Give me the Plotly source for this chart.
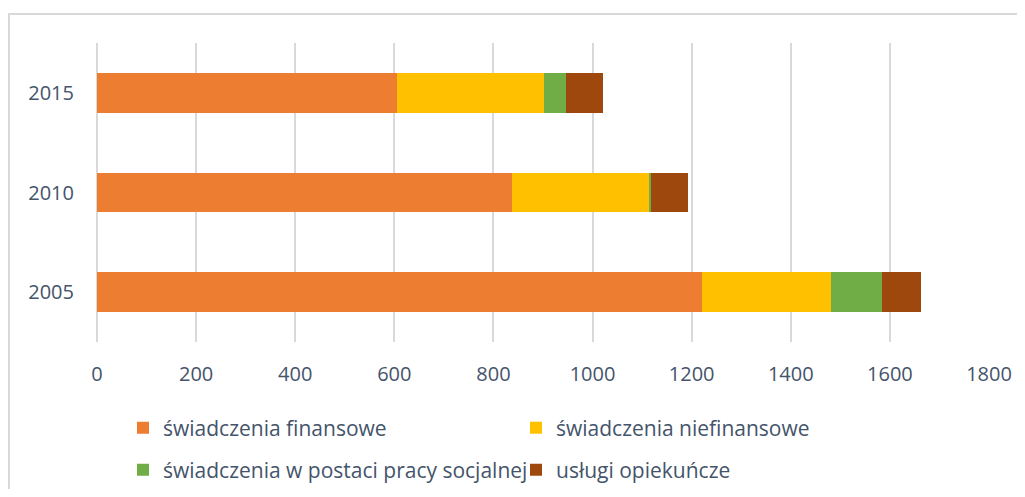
import plotly.graph_objects as go

years = ["2005", "2010", "2015"]
series_names = [
    "świadczenia finansowe",
    "świadczenia niefinansowe",
    "świadczenia w postaci pracy socjalnej",
    "usługi opiekuńcze",
]
fin = [1221, 837, 605]
niefin = [260, 277, 297]
social = [103, 4, 44]
care = [79, 74, 75]
x_ticks = [0, 200, 400, 600, 800, 1000, 1200, 1400, 1600, 1800]

colors = ["#ED7D31", "#FFC000", "#70AD47", "#9E480E"]
values = [fin, niefin, social, care]
legends = ["legend", "legend", "legend2", "legend2"]

# page body has an 8px margin; figure is sized to fit the viewport
W, H = 1009, 481
ml, mr, mt, mb = 89, 28, 35, 147
pw, ph = W - ml - mr, H - mt - mb

def px_x(px):
    return (px - ml) / pw

def px_y(py):
    return (H - mb - py) / ph

def cx(px):
    return px / W

def cy(py):
    return (H - py) / H

TXT = "#44546A"
FONT = "Open Sans"

fig = go.Figure()
for name, vals, col, lg in zip(series_names, values, colors, legends):
    fig.add_trace(go.Bar(
        y=years, x=vals, name=name, orientation="h",
        marker=dict(color=col, line=dict(width=0)),
        legend=lg,
    ))

leg_common = dict(
    orientation="h", xanchor="left", yanchor="middle",
    xref="container", yref="container",
    entrywidth=348, entrywidthmode="pixels",
    font=dict(family=FONT, size=21, color=TXT),
    bgcolor="rgba(0,0,0,0)", traceorder="normal",
)

fig.update_layout(
    width=W, height=H,
    margin=dict(l=ml, r=mr, t=mt, b=mb, autoexpand=False),
    barmode="stack",
    bargap=0.6,
    plot_bgcolor="white",
    paper_bgcolor="white",
    font=dict(family=FONT, size=20, color=TXT),
    xaxis=dict(
        range=[0, 1800], tickvals=x_ticks, ticktext=[str(v) for v in x_ticks],
        showgrid=True, gridcolor="#D9D9D9", gridwidth=2,
        zeroline=True, zerolinecolor="#D9D9D9", zerolinewidth=2,
        showline=False, ticks="", ticklabelstandoff=18,
        tickfont=dict(family=FONT, size=20, color=TXT),
    ),
    yaxis=dict(
        type="category", categoryorder="array", categoryarray=years,
        showgrid=False, zeroline=False, showline=False, ticks="",
        ticklabelstandoff=22,
        tickfont=dict(family=FONT, size=20, color=TXT),
    ),
    legend=dict(x=cx(115), y=cy(420), **leg_common),
    legend2=dict(x=cx(115), y=cy(462), **leg_common),
    shapes=[dict(
        type="rect", xref="paper", yref="paper",
        x0=px_x(1), x1=px_x(1040), y0=px_y(6), y1=px_y(520),
        line=dict(color="#D9D9D9", width=2), fillcolor="rgba(0,0,0,0)",
        layer="below",
    )],
)

fig.write_html("out.html")
